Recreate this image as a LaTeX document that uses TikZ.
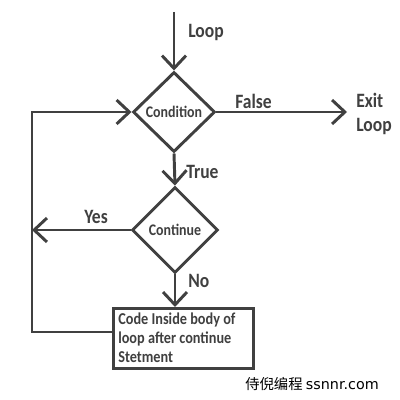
\documentclass[tikz,border=0pt]{standalone}
\usepackage{fontspec}
\setmainfont{Carlito}[FakeStretch=0.86]
\newfontfamily\cjk{Noto Sans CJK SC}
\newfontfamily\wmfont{DejaVu Sans}
\usetikzlibrary{arrows.meta,shapes.geometric}
\definecolor{ink}{HTML}{404040}
\tikzset{
  flow/.style={draw=ink,line width=2.1pt,-{Straight Barb[length=3.2mm,width=6mm,line width=2.1pt]}},
  decision/.style={shape=diamond,draw=ink,line width=2.1pt,inner sep=0pt,fill=white,font=\bfseries\fontsize{11.5}{12}\selectfont,text=ink},
  lbl/.style={font=\bfseries\fontsize{14.5}{17}\selectfont,text=ink,inner sep=0pt},
  boxnode/.style={draw=ink,line width=2.1pt,fill=white,inner sep=0pt,minimum width=140*0.025cm,minimum height=60*0.025cm}
}
\begin{document}
\begin{tikzpicture}[x=0.025cm,y=-0.025cm]
\useasboundingbox (0,0) rectangle (400,400);
\node[decision,minimum width=82*0.025cm,minimum height=80*0.025cm] (cond) at (174,112) {Condition};
\node[decision,minimum width=86*0.025cm,minimum height=86*0.025cm] (cont) at (175,230) {Continue};
\node[boxnode,anchor=north west] (body) at (112,307) {};
\node[font=\bfseries\fontsize{11.8}{13.6}\selectfont,text=ink,align=left,anchor=north west,inner sep=0pt] (bodytext) at (118,312.5) {Code Inside body of\\loop after continue\\Stetment};
\coordinate (start) at (174,12);
\coordinate (exit) at (347,112);
\coordinate (bl) at (32,332);
\coordinate (tl) at (32,112);
\coordinate (yl) at (32,230);
\draw[flow] (start) -- (cond.north);
\draw[flow] (cond.east) -- (exit);
\draw[flow] (cond.south) -- (cont.north);
\draw[flow] (cont.west) -- (yl);
\draw[flow] (cont.south) -- (body.north -| cont.south);
\draw[flow] (body.west |- bl) -- (bl) -- (tl) -- (cond.west);
\node[lbl,anchor=west] (lloop) at (188,32) {Loop};
\node[lbl,anchor=west] (lfalse) at (235,101) {False};
\node[lbl,anchor=west,align=left] (lexit) at (356,114) {Exit\\Loop};
\node[lbl,anchor=west] (ltrue) at (186,172) {True};
\node[lbl,anchor=west] (lyes) at (84,217) {Yes};
\node[lbl,anchor=west] (lno) at (188,281) {No};
\node[font=\fontsize{10.2}{12}\selectfont,text=black,anchor=west,inner sep=0pt] (wm) at (245,384) {\cjk 侍倪编程\ \wmfont ssnnr.com};
\end{tikzpicture}
\end{document}
